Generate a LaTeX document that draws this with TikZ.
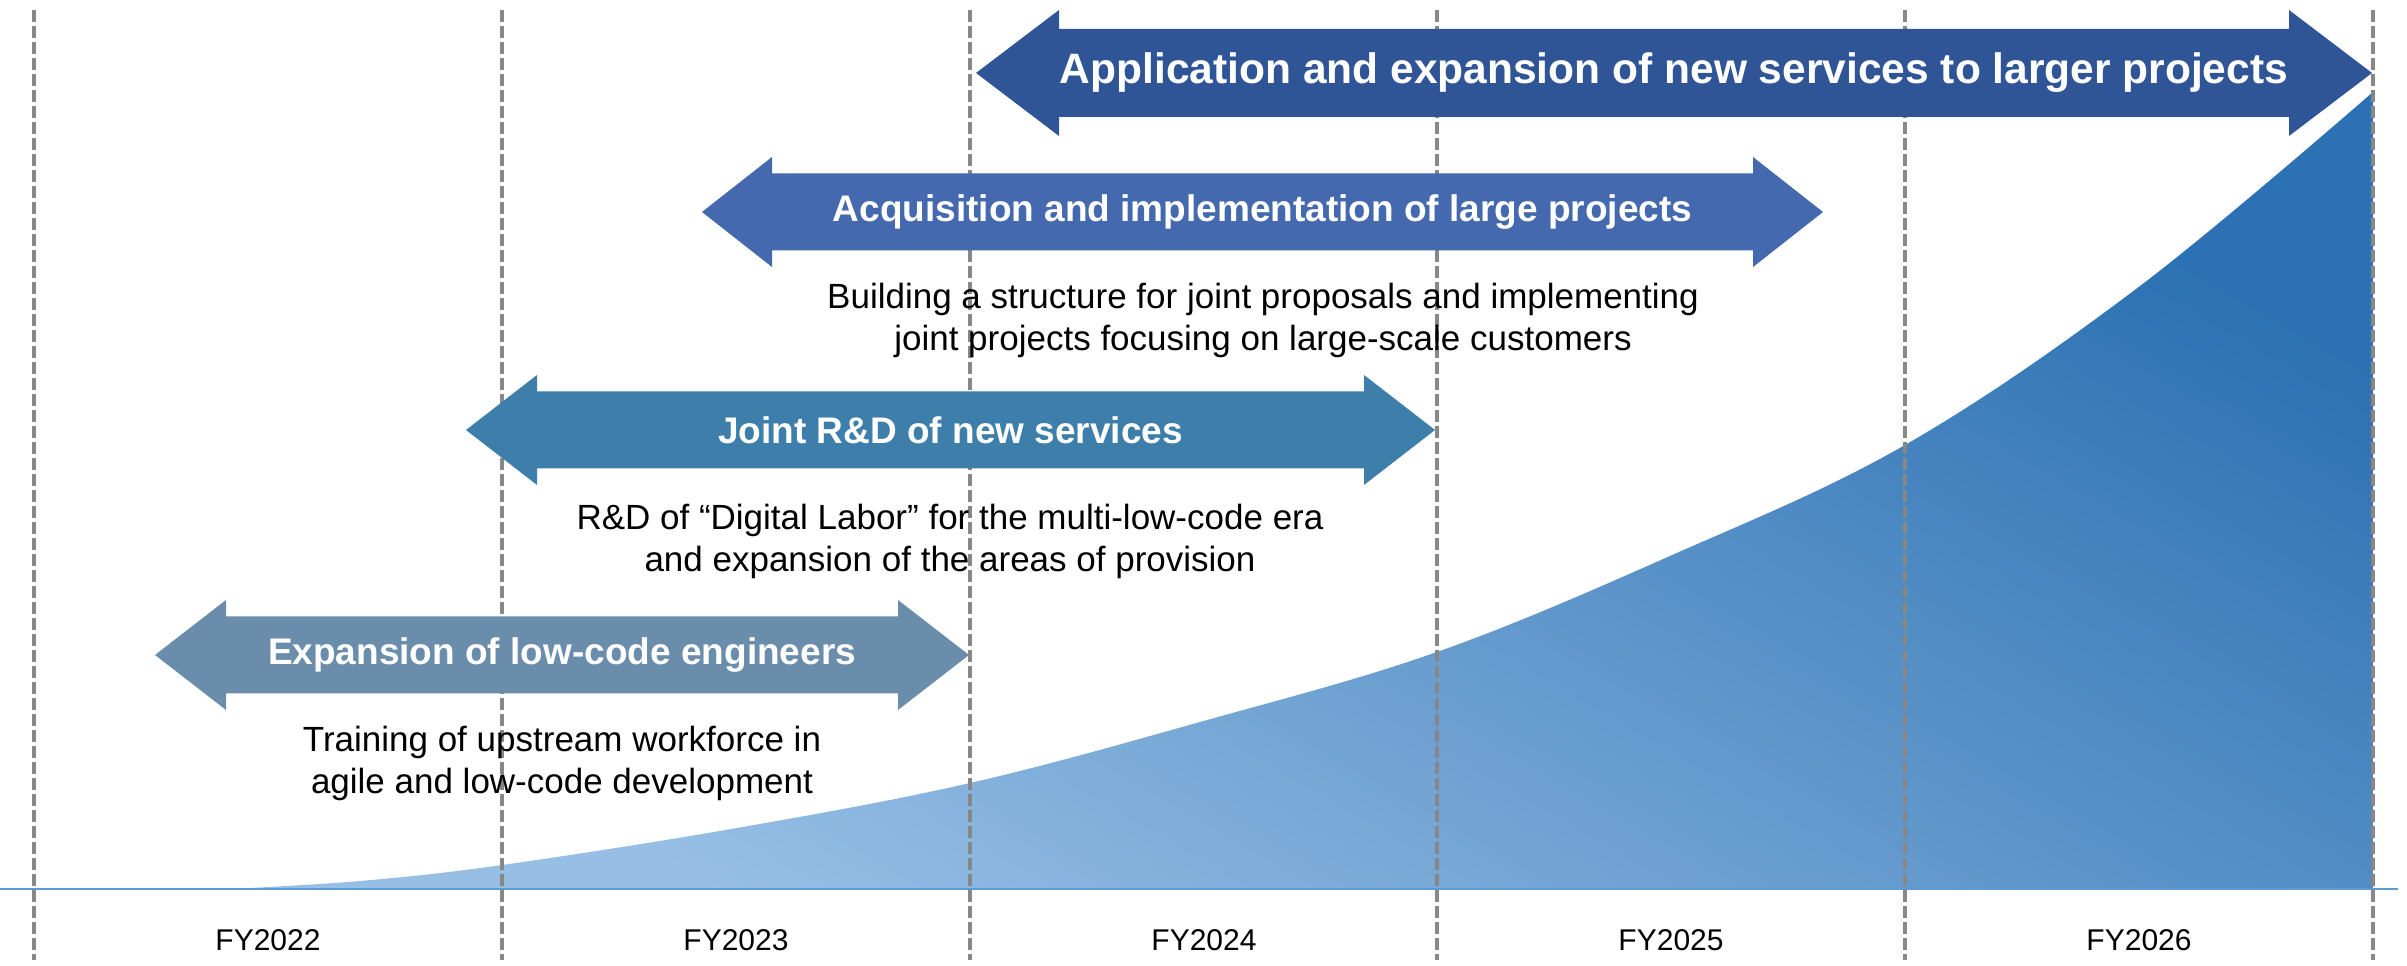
\documentclass[tikz,border=0pt]{standalone}
\usepackage{fontspec}
\setmainfont{Liberation Sans}
\definecolor{gridgray}{HTML}{878787}
\definecolor{axisblue}{HTML}{5B9BD5}
\definecolor{growdark}{HTML}{2C71B3}
\definecolor{growlight}{HTML}{97BFE5}
\definecolor{barA}{HTML}{2F5597}
\definecolor{barB}{HTML}{4469AE}
\definecolor{barC}{HTML}{3D7EAA}
\definecolor{barD}{HTML}{6B8DAC}

% double-headed bar: name, left tip x, right tip x, centre y, half height, half shaft, head length, colour
\newcommand\phasebar[8]{%
  \fill[#8] (#2,#4) -- (#2+#7,#4+#5) -- (#2+#7,#4+#6) -- (#3-#7,#4+#6)
    -- (#3-#7,#4+#5) -- (#3,#4) -- (#3-#7,#4-#5) -- (#3-#7,#4-#6)
    -- (#2+#7,#4-#6) -- (#2+#7,#4-#5) -- cycle;
  \coordinate (#1) at ({(#2+#3)/2},#4);%
}

\begin{document}
\begin{tikzpicture}[x=1pt,y=1pt,
  yearline/.style={draw=gridgray, line width=3.6pt, dash pattern=on 12pt off 4pt},
  barlabel/.style={text=white, inner sep=0pt, font=\bfseries\fontsize{37}{44}\selectfont},
  toplabel/.style={barlabel, font=\bfseries\fontsize{42.5}{50}\selectfont},
  desc/.style={align=center, inner sep=0pt, font=\fontsize{35}{42}\selectfont},
  fylabel/.style={inner sep=0pt, font=\fontsize{30}{36}\selectfont}]
\useasboundingbox (0,0) rectangle (2407,966);

% growth area
\shade[top color=growdark, bottom color=growlight, shading angle=-30]
  plot[smooth, tension=0.6] coordinates {(230,77) (360,85) (502,101) (737,138) (970,183)
    (1200,244) (1437,314) (1670,410) (1905,521) (2140,680) (2373,874)}
  -- (2373,77) -- cycle;

% axis
\coordinate (axL) at (0,77);
\coordinate (axR) at (2398,77);
\draw[axisblue, line width=2pt] (axL) -- (axR);

% year boundaries
\foreach \i/\x in {0/34,1/502,2/970,3/1437,4/1905,5/2373} {
  \coordinate (yt\i) at (\x,956);
  \coordinate (yb\i) at (\x,6);
  \draw[yearline] (yt\i) -- (yb\i);
}

% year labels
\node[fylabel] (fy22) at (268,26) {FY2022};
\node[fylabel] (fy23) at (736,26) {FY2023};
\node[fylabel] (fy24) at (1204,26) {FY2024};
\node[fylabel] (fy25) at (1671,26) {FY2025};
\node[fylabel] (fy26) at (2139,26) {FY2026};

% phases
\phasebar{pA}{976}{2372}{893}{63}{44}{83}{barA}
\node[toplabel] (lA) at (pA) {Application and expansion of new services to larger projects};

\phasebar{pB}{702}{1823}{754}{55}{38.5}{70}{barB}
\node[barlabel] (lB) at (pB) {Acquisition and implementation of large projects};
\node[desc] (dB) at (1263,646) {Building a structure for joint proposals and implementing\\joint projects focusing on large-scale customers};

\phasebar{pC}{466}{1435}{536}{55}{38.5}{71}{barC}
\node[barlabel] (lC) at (pC) {Joint R\&D of new services};
\node[desc] (dC) at (950,425) {R\&D of “Digital Labor” for the multi-low-code era\\and expansion of the areas of provision};

\phasebar{pD}{155}{969}{311}{55}{38.5}{71}{barD}
\node[barlabel] (lD) at (pD) {Expansion of low-code engineers};
\node[desc] (dD) at (562,203) {Training of upstream workforce in\\agile and low-code development};
\end{tikzpicture}
\end{document}
